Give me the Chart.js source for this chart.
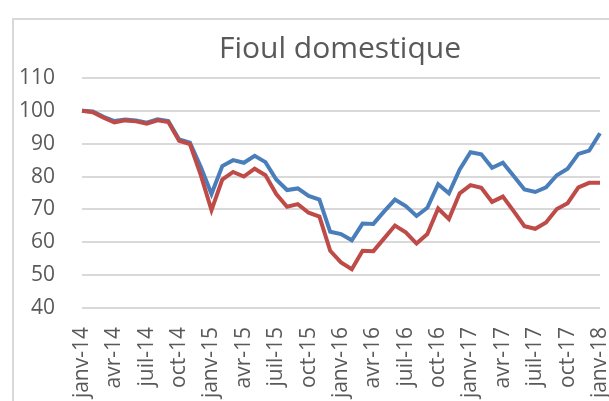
<!DOCTYPE html>
<html>
<head>
<meta charset="utf-8">
<script src="https://cdn.jsdelivr.net/npm/chart.js@4/dist/chart.umd.min.js"></script>
<style>
  html, body { margin: 0; padding: 0; background: #fff; overflow: hidden; }
  #wrap { position: relative; width: 609px; height: 401px; overflow: hidden; }
  #frame { position: absolute; left: 12px; top: 18px; width: 640px; height: 440px; border: 2px solid #D9D9D9; box-sizing: border-box; }
  canvas { position: absolute; left: 0; top: 0; }
</style>
</head>
<body>
<div id="wrap">
  <div id="frame"></div>
  <canvas id="c" width="609" height="401"></canvas>
</div>
<script>
const titleText = "Fioul domestique";
const monthNames = ["janv", "févr", "mars", "avr", "mai", "juin", "juil", "août", "sept", "oct", "nov", "déc"];
const years = ["14", "15", "16", "17", "18"];
const categories = [];
years.forEach(y => monthNames.forEach(m => categories.push(m + "-" + y)));
categories.length = 49; // janv-14 .. janv-18

const seriesBlue = [100, 99.8, 98.2, 96.9, 97.4, 97.1, 96.4, 97.4, 96.9, 91.3, 90.3, 83.0, 74.7,
  83.2, 85.0, 84.2, 86.3, 84.4, 79.1, 75.9, 76.4, 74.1, 73.0, 63.2, 62.5,
  60.6, 65.7, 65.6, 69.4, 73.0, 71.0, 68.0, 70.5, 77.7, 74.9, 82.2, 87.4,
  86.8, 82.7, 84.2, 80.2, 76.1, 75.3, 76.7, 80.4, 82.4, 86.9, 87.9, 93.2];
const seriesRed = [100, 99.6, 97.9, 96.5, 97.1, 96.8, 96.1, 97.1, 96.6, 90.9, 89.9, 80.5, 69.8,
  79.1, 81.4, 80.0, 82.4, 80.4, 74.7, 70.8, 71.6, 69.0, 67.8, 57.4, 53.9,
  51.8, 57.4, 57.3, 61.2, 65.1, 63.0, 59.6, 62.5, 70.3, 67.1, 74.9, 77.4,
  76.6, 72.3, 73.9, 69.5, 64.9, 64.1, 66.0, 70.1, 71.9, 76.7, 78.1, 78.1];
const yTicks = [40, 50, 60, 70, 80, 90, 100, 110];

const FONT = "'Open Sans', 'DejaVu Sans', sans-serif";
const TXT = "#595959";

const titlePlugin = {
  id: 'customTitle',
  afterDraw(chart) {
    const ctx = chart.ctx;
    ctx.save();
    ctx.font = "30px " + FONT;
    ctx.fillStyle = TXT;
    ctx.textAlign = "center";
    ctx.textBaseline = "alphabetic";
    ctx.fillText(titleText, 340, 58);
    ctx.restore();
  }
};

new Chart(document.getElementById('c'), {
  type: 'line',
  data: {
    labels: categories,
    datasets: [
      { label: 'Série 1', data: seriesBlue, borderColor: '#4A7EBB', backgroundColor: '#4A7EBB',
        borderWidth: 4, pointRadius: 0, tension: 0, order: 1 },
      { label: 'Série 2', data: seriesRed, borderColor: '#BE4B48', backgroundColor: '#BE4B48',
        borderWidth: 4, pointRadius: 0, tension: 0, order: 0 }
    ]
  },
  options: {
    responsive: false,
    animation: false,
    devicePixelRatio: 1,
    layout: { padding: { left: 0, right: 9, top: 78, bottom: 0 } },
    plugins: { legend: { display: false }, title: { display: false }, tooltip: { enabled: false } },
    scales: {
      x: {
        type: 'category',
        offset: false,
        grid: { display: false, drawTicks: false },
        border: { display: false },
        ticks: {
          autoSkip: false, maxRotation: 90, minRotation: 90, padding: 19,
          color: TXT, font: { family: FONT, size: 21 },
          callback: function(v, i) { return i % 3 === 0 ? categories[i] : ''; }
        },
        afterFit(scale) { scale.height = 401 - 308; scale.paddingLeft = 0; scale.paddingRight = 0; }
      },
      y: {
        min: 40, max: 110,
        afterBuildTicks(scale) { scale.ticks = yTicks.map(v => ({ value: v })); },
        grid: { color: '#D9D9D9', lineWidth: 2, drawTicks: false },
        border: { display: false },
        ticks: { padding: 27, color: TXT, font: { family: FONT, size: 21 } },
        afterFit(scale) { scale.width = 82; scale.paddingTop = 0; scale.paddingBottom = 0; }
      }
    }
  },
  plugins: [titlePlugin]
});
</script>
</body>
</html>
